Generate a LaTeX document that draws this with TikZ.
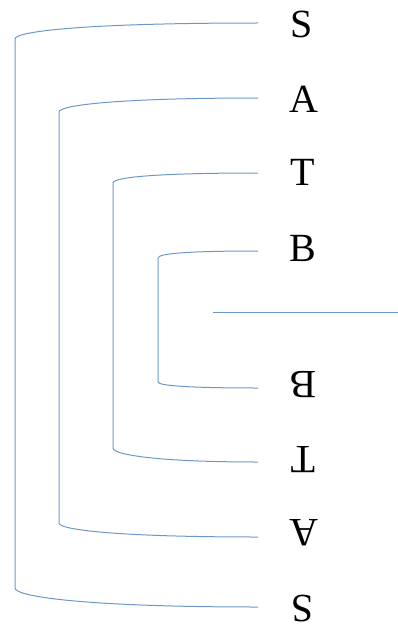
\documentclass[tikz,border=0pt]{standalone}
\usepackage{fontspec}
\setmainfont{Liberation Serif}
\definecolor{brc}{RGB}{108,152,200}
\tikzset{
  br/.style={draw=brc, line width=1pt},
  letter/.style={inner sep=0pt, font=\fontsize{40}{40}\selectfont},
  flipped/.style={letter, rotate=180}
}
\begin{document}
\begin{tikzpicture}[x=1pt,y=-1pt]
\useasboundingbox (0,0) rectangle (398,626);
% letters
\node[letter] (S1) at (302,24) {S};
\node[letter] (A1) at (304,99) {A};
\node[letter] (T1) at (303,172) {T};
\node[letter] (B1) at (303,248) {B};
\node[flipped] (B2) at (303,385) {B};
\node[flipped] (T2) at (303,460) {T};
\node[flipped] (A2) at (304,533) {A};
\node[flipped] (S2) at (302,609) {S};
% line ends
\coordinate (s1) at (258,23);
\coordinate (a1) at (258,98);
\coordinate (t1) at (258,173);
\coordinate (b1) at (258,251);
\coordinate (b2) at (258,388);
\coordinate (t2) at (258,462);
\coordinate (a2) at (258,537);
\coordinate (s2) at (258,607);
\coordinate (m1) at (213,312);
\coordinate (m2) at (398,312);
% brackets
\draw[br] (s1) .. controls (90,23) and (15,31) .. (15,39) -- (15,588) .. controls (15,597) and (90,607) .. (s2);
\draw[br] (a1) .. controls (120,98) and (59,105) .. (59,112) -- (59,523) .. controls (59,530) and (120,537) .. (a2);
\draw[br] (t1) .. controls (160,173) and (113,177) .. (113,183) -- (113,448) .. controls (113,455) and (160,462) .. (t2);
\draw[br] (b1) .. controls (195,251) and (158,253) .. (158,258) -- (158,382) .. controls (158,386) and (195,388) .. (b2);
\draw[br] (m1) -- (m2);
\end{tikzpicture}
\end{document}
